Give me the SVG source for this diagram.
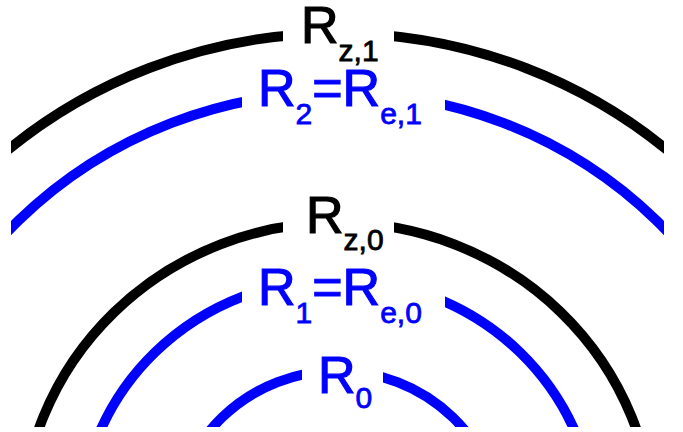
<svg xmlns="http://www.w3.org/2000/svg" width="683" height="432" viewBox="0 0 683 432">
<defs>
<style>
.k{fill:none;stroke:#000;stroke-width:10}
.b{fill:none;stroke:#0000ff;stroke-width:10}
.m{fill:#fff}
.t{font-family:"Liberation Sans",Arial,sans-serif;font-size:52px;stroke-width:1.2px}
.tk{fill:#000;stroke:#000}
.tb{fill:#0000ff;stroke:#0000ff}
.s{font-size:30px;stroke-width:0.8px}
</style>
<clipPath id="c"><rect x="11" y="0" width="653" height="427"/></clipPath>
</defs>
<rect width="683" height="432" fill="#fff"/>
<g id="connectors" clip-path="url(#c)">
<ellipse class="k" cx="337.5" cy="529" rx="511.3" ry="495.8"/>
<ellipse class="b" cx="337.5" cy="529" rx="450.5" ry="436.8"/>
<ellipse class="k" cx="337.5" cy="529" rx="316" ry="306.4"/>
<ellipse class="b" cx="337.5" cy="529" rx="258" ry="250"/>
<ellipse class="b" cx="337.5" cy="529" rx="163" ry="158"/>
</g>
<g id="label-rz1">
<rect class="m" x="283" y="22" width="111" height="30"/>
<text class="t tk" x="301" y="43">R<tspan class="s" dy="18">z,1</tspan></text>
</g>
<g id="label-r2">
<rect class="m" x="242" y="80" width="203" height="40"/>
<text class="t tb" x="258" y="106">R<tspan class="s" dy="18">2</tspan><tspan dy="-18">=R</tspan><tspan class="s" dy="18">e,1</tspan></text>
</g>
<g id="label-rz0">
<rect class="m" x="283" y="210" width="111" height="32"/>
<text class="t tk" x="306" y="233">R<tspan class="s" dy="17">z,0</tspan></text>
</g>
<g id="label-r1">
<rect class="m" x="242" y="264" width="203" height="58"/>
<text class="t tb" x="258" y="305">R<tspan class="s" dy="18">1</tspan><tspan dy="-18">=R</tspan><tspan class="s" dy="18">e,0</tspan></text>
</g>
<g id="label-r0">
<rect class="m" x="302" y="358" width="81" height="34"/>
<text class="t tb" x="318" y="393">R<tspan class="s" dy="15">0</tspan></text>
</g>
</svg>
